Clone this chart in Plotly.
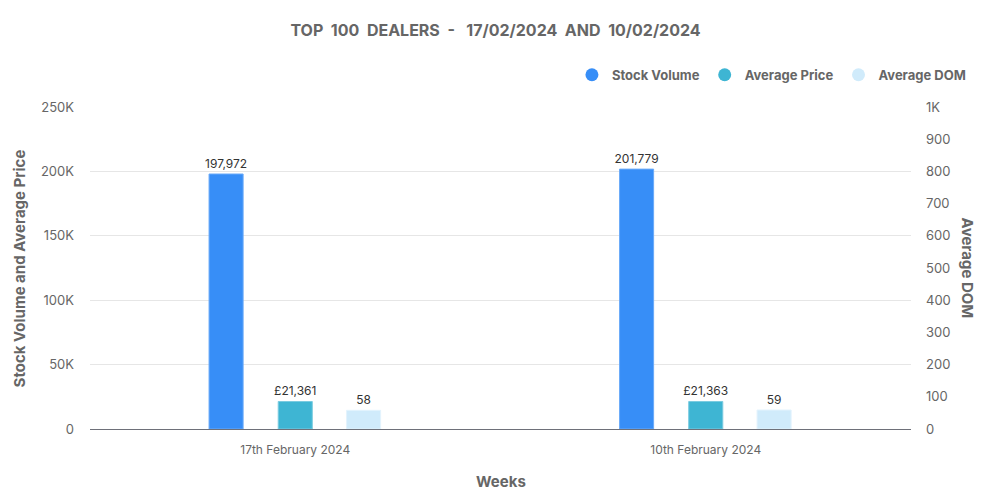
import plotly.graph_objects as go

weeks = ["17th February 2024", "10th February 2024"]
stock_volume = [197972, 201779]
average_price = [21361, 21363]
average_dom = [58, 59]

left_ticks = [0, 50000, 100000, 150000, 200000, 250000]
left_labels = ["0", "50K", "100K", "150K", "200K", "250K"]
right_ticks = [0, 100, 200, 300, 400, 500, 600, 700, 800, 900, 1000]
right_labels = ["0", "100", "200", "300", "400", "500", "600", "700", "800", "900", "1K"]

blue = "#378ef7"
teal = "#3eb5d3"
pale = "#d0ebfb"
grey = "#666666"
font = "Inter, Roboto, sans-serif"
label_font = dict(color="#333333", size=12, family=font)
axis_title_font = dict(size=15, color=grey, family=font, weight="bold")

fig = go.Figure()

bar_w = 0.083
fig.add_trace(go.Bar(
    x=weeks, y=stock_volume, name="Stock Volume",
    width=bar_w, offset=-0.21,
    marker=dict(color=blue, line=dict(color="#6aaaf9", width=1)),
    text=[f"{v:,}" for v in stock_volume], textposition="outside",
    textfont=label_font, constraintext="none",
    cliponaxis=False, showlegend=False,
))
fig.add_trace(go.Bar(
    x=weeks, y=average_price, name="Average Price",
    width=bar_w, offset=-0.0415,
    marker=dict(color=teal, line=dict(color="#7acbe0", width=1)),
    text=[f"£{v:,}" for v in average_price], textposition="outside",
    textfont=label_font, constraintext="none",
    cliponaxis=False, showlegend=False,
))
fig.add_trace(go.Bar(
    x=weeks, y=average_dom, name="Average DOM", yaxis="y2",
    width=bar_w, offset=0.125,
    marker=dict(color=pale, line=dict(color="#e3f3fd", width=1)),
    text=[str(v) for v in average_dom], textposition="outside",
    textfont=label_font, constraintext="none",
    cliponaxis=False, showlegend=False,
))

# legend entries with round markers
for name, col in [("Stock Volume", blue), ("Average Price", teal), ("Average DOM", pale)]:
    fig.add_trace(go.Scatter(
        x=[None], y=[None], mode="markers", name=name,
        marker=dict(symbol="circle", size=13, color=col),
    ))

# page body has an 8px margin, so the margins are shifted to compensate
fig.update_layout(
    width=1000, height=500,
    paper_bgcolor="white", plot_bgcolor="white",
    margin=dict(l=82, r=97, t=99, b=79, autoexpand=False),
    barmode="overlay",
    font=dict(family=font, color=grey, size=12),
    title=dict(
        text="TOP\u00a0\u00a0100\u00a0\u00a0DEALERS\u00a0\u00a0-\u00a0\u00a0\u00a017/02/2024\u00a0\u00a0AND\u00a0\u00a010/02/2024",
        x=0.4875, xanchor="center", y=0.956, yanchor="middle",
        font=dict(size=16, color=grey, family=font, weight="bold"),
    ),
    legend=dict(
        orientation="h", x=1.073, xanchor="right", y=1.1, yanchor="middle",
        font=dict(size=13, color=grey, family=font, weight="bold"),
        itemwidth=30, traceorder="normal",
    ),
    xaxis=dict(
        type="category", range=[-0.5, 1.5], automargin=False,
        showgrid=False, showline=True, linecolor="#6e7079", linewidth=1,
        ticks="", ticklabelstandoff=10, tickfont=dict(size=12, color=grey),
    ),
    yaxis=dict(
        range=[0, 250000], tickvals=left_ticks, ticktext=left_labels, automargin=False,
        showgrid=True, gridcolor="#e6e6e6", zeroline=False,
        ticks="", ticklabelstandoff=15, tickfont=dict(size=13, color=grey),
    ),
    yaxis2=dict(
        range=[0, 1000], tickvals=right_ticks, ticktext=right_labels, automargin=False,
        overlaying="y", side="right", showgrid=False, zeroline=False,
        ticks="", ticklabelstandoff=14, tickfont=dict(size=13, color=grey),
    ),
    annotations=[
        dict(text="Weeks", xref="paper", yref="paper", x=0.5, y=-0.162,
             xanchor="center", yanchor="middle", showarrow=False, font=axis_title_font),
        dict(text="Stock Volume and Average Price", xref="paper", yref="paper",
             x=-0.086, y=0.5, xanchor="center", yanchor="middle", textangle=-90,
             showarrow=False, font=axis_title_font),
        dict(text="Average DOM", xref="paper", yref="paper",
             x=1.07, y=0.5, xanchor="center", yanchor="middle", textangle=90,
             showarrow=False, font=axis_title_font),
    ],
)

fig.write_html("out.html")
